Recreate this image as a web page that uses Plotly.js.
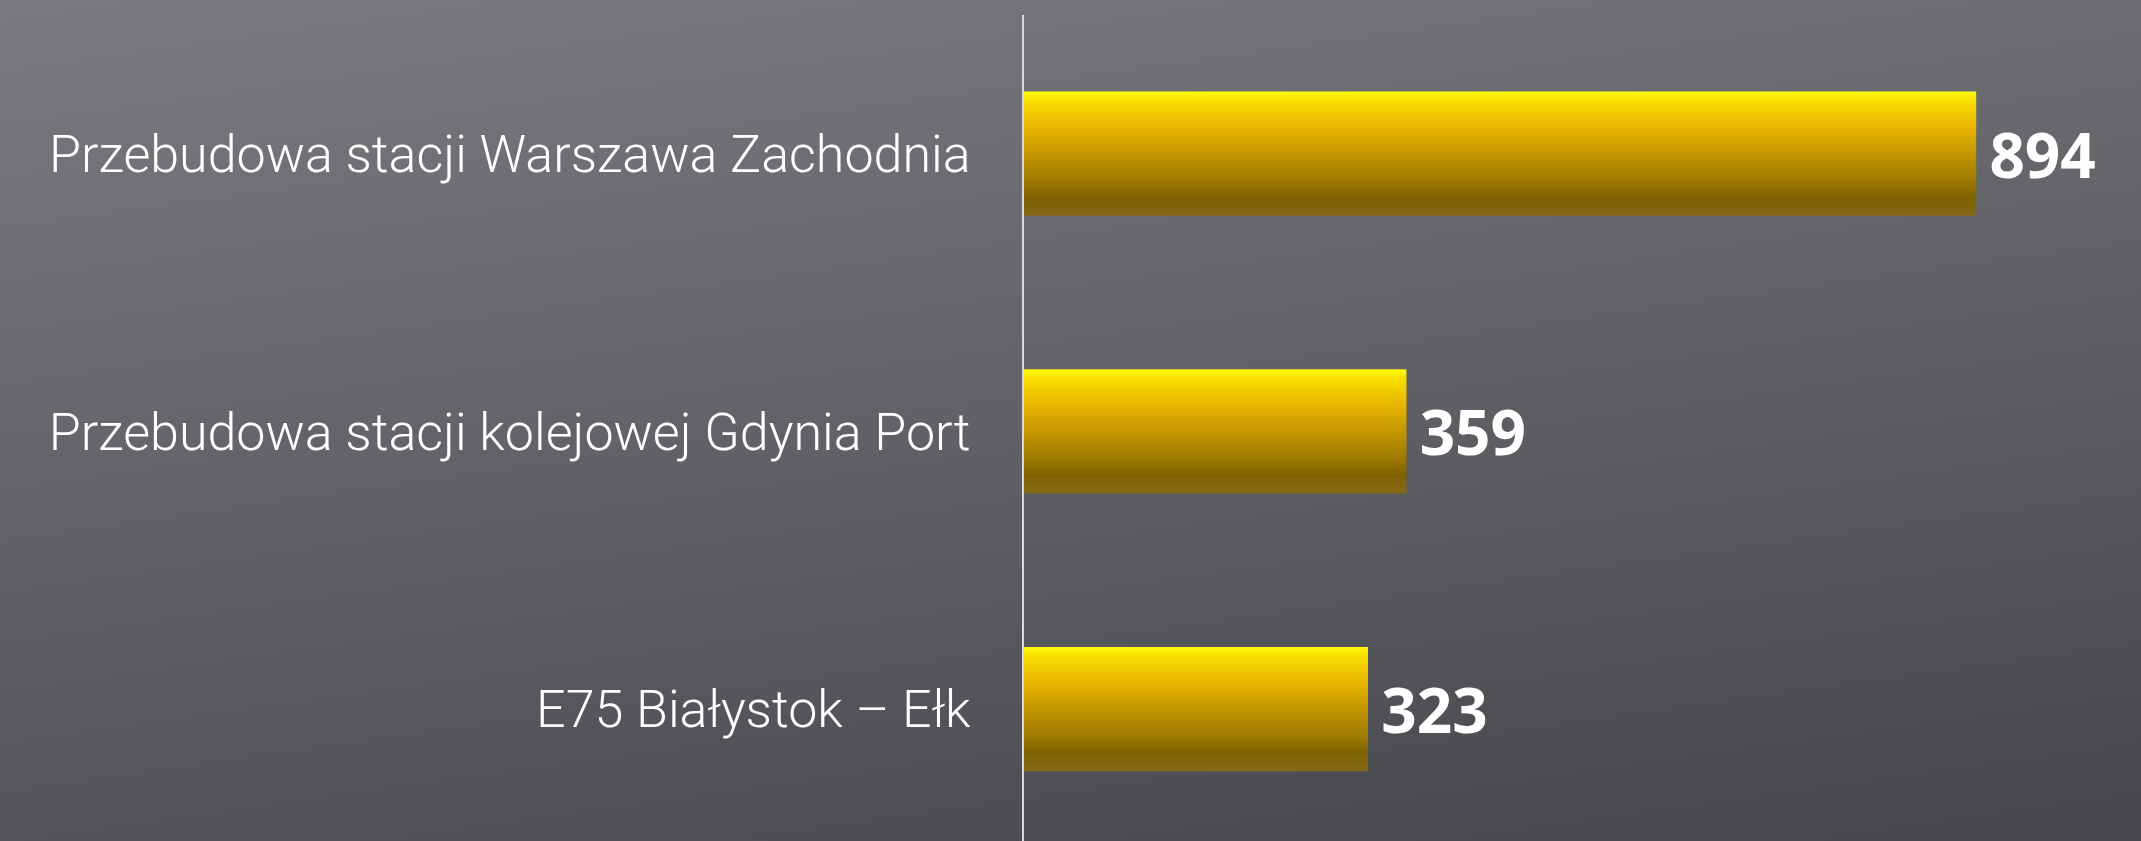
<!DOCTYPE html>
<html>
<head>
<meta charset="utf-8">
<script src="https://cdn.plot.ly/plotly-3.0.1.min.js"></script>
<style>
  html, body { margin:0; padding:0; width:2141px; height:841px; overflow:hidden; }
  body { background: linear-gradient(172deg, #7a7b7f 0%, #5f6166 50%, #44464c 100%); }
  #chart { width:2141px; height:841px; }
</style>
</head>
<body>
<div id="chart"></div>
<script>
// ---- data ----
const categories = [
  'Przebudowa stacji Warszawa Zachodnia',
  'Przebudowa stacji kolejowej Gdynia Port',
  'E75 Białystok – Ełk'
];
const values = [894, 359, 323];
const valueLabels = ['894', '359', '323'];

// ---- style ----
const gradientStops = [
  [0.00, [255, 250, 12]],
  [0.08, [248, 222, 0]],
  [0.28, [233, 182, 0]],
  [0.50, [196, 151, 0]],
  [0.70, [160, 124, 0]],
  [0.86, [126, 98, 0]],
  [1.00, [134, 105, 26]]
];
function colorAt(t) {
  for (let i = 0; i < gradientStops.length - 1; i++) {
    const [t0, c0] = gradientStops[i], [t1, c1] = gradientStops[i + 1];
    if (t >= t0 && t <= t1) {
      const f = (t - t0) / (t1 - t0);
      const c = c0.map((v, k) => Math.round(v + (c1[k] - v) * f));
      return `rgb(${c[0]},${c[1]},${c[2]})`;
    }
  }
  const c = gradientStops[gradientStops.length - 1][1];
  return `rgb(${c[0]},${c[1]},${c[2]})`;
}

const BAR_W = 0.447;
const N = 62;
const traces = [];
for (let k = 0; k < N; k++) {
  const stripW = BAR_W / N;
  const isLast = k === N - 1;
  traces.push({
    type: 'bar',
    orientation: 'h',
    y: categories,
    x: values,
    offset: -BAR_W / 2 + k * stripW,
    width: isLast ? stripW : stripW * 1.6,
    marker: { color: colorAt((k + 0.5) / N), line: { width: 0 } },
    hoverinfo: 'skip',
    showlegend: false
  });
}
// label carrier
traces.push({
  type: 'bar',
  orientation: 'h',
  y: categories,
  x: values,
  width: BAR_W,
  marker: { color: 'rgba(0,0,0,0)', line: { width: 0 } },
  text: valueLabels.map(s => '\u2009' + s),
  textposition: 'outside',
  cliponaxis: false,
  textfont: { family: 'Open Sans, Lato, sans-serif', size: 62, color: '#ffffff', weight: 700 },
  hoverinfo: 'skip',
  showlegend: false
});

const layout = {
  width: 2141,
  height: 841,
  margin: { l: 1024, r: 0, t: 15, b: 0 },
  paper_bgcolor: 'rgba(0,0,0,0)',
  plot_bgcolor: 'rgba(0,0,0,0)',
  barmode: 'overlay',
  xaxis: {
    range: [0, 1048.8],
    showgrid: false, zeroline: false, showticklabels: false, showline: false, ticks: ''
  },
  yaxis: {
    type: 'category',
    categoryorder: 'array',
    categoryarray: categories,
    range: [2.475, -0.499],
    showgrid: false, zeroline: false,
    showline: true, linecolor: '#d9d9d9', linewidth: 2,
    ticks: '',
    ticklabelstandoff: 41,
    tickfont: { family: 'Roboto, sans-serif', size: 52, weight: 300, color: '#ffffff' }
  },
  showlegend: false
};

Plotly.newPlot('chart', traces, layout, { staticPlot: true, displayModeBar: false });
</script>
</body>
</html>
